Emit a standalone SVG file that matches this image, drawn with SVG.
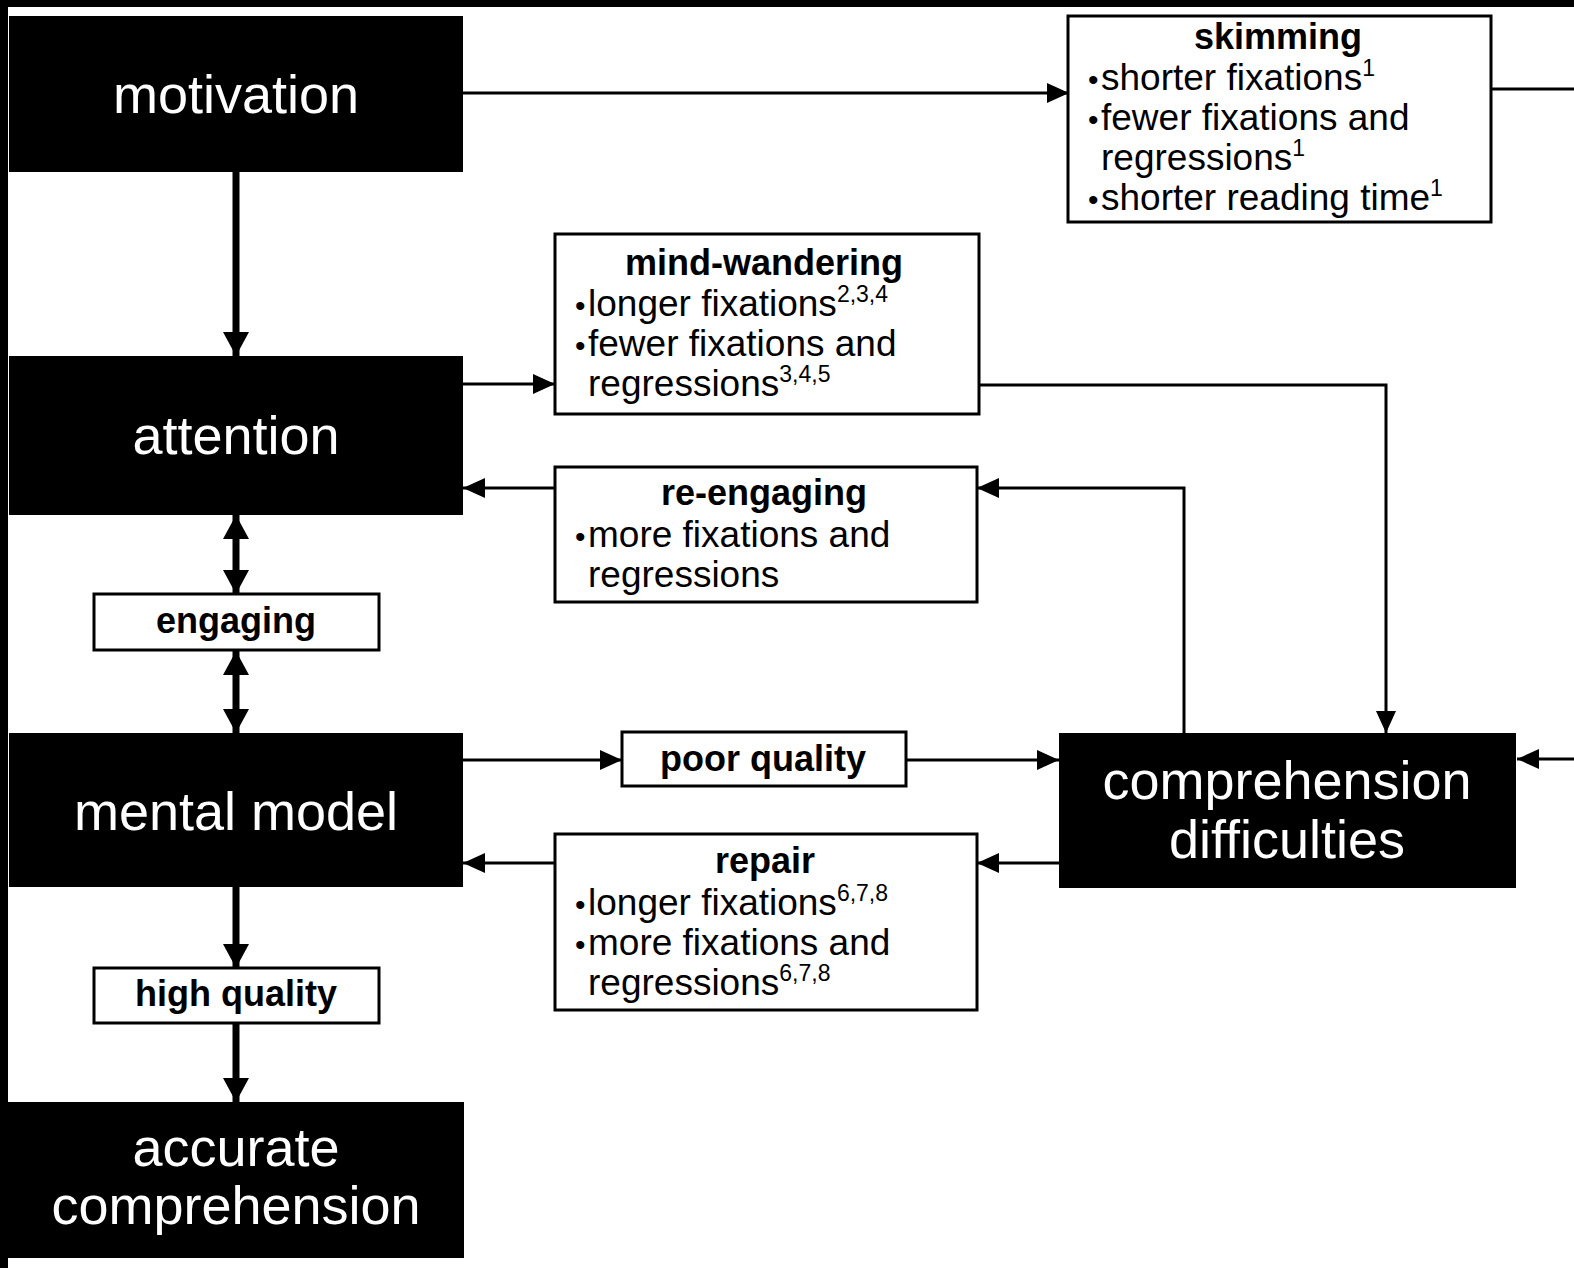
<svg xmlns="http://www.w3.org/2000/svg" width="1574" height="1268" viewBox="0 0 1574 1268">
<style>
.blk{fill:#000}
.box{fill:#fff;stroke:#000;stroke-width:3}
.big{font-family:"Liberation Sans",Arial,sans-serif;font-size:54px;fill:#fff;text-anchor:middle}
.ttl{font-family:"Liberation Sans",Arial,sans-serif;font-size:36px;font-weight:bold;fill:#000;text-anchor:middle}
.txt{font-family:"Liberation Sans",Arial,sans-serif;font-size:37px;fill:#000}
.sup{font-size:23px}
.bul{font-size:30px}
.thin{fill:none;stroke:#000;stroke-width:3}
.thick{fill:none;stroke:#000;stroke-width:7}
</style>
<defs>
<marker id="ah" markerUnits="userSpaceOnUse" markerWidth="24" markerHeight="22" refX="22" refY="10" orient="auto">
<path d="M0,0 L22,10 L0,20 z" fill="#000"/>
</marker>
<marker id="ahT" markerUnits="userSpaceOnUse" markerWidth="26" markerHeight="28" refX="24" refY="13" orient="auto-start-reverse">
<path d="M0,0 L24,13 L0,26 z" fill="#000"/>
</marker>
</defs>
<rect x="0" y="0" width="1574" height="1268" fill="#fff"/>
<rect x="0" y="0" width="1574" height="7" fill="#000"/>
<rect x="0" y="0" width="8" height="1268" fill="#000"/>

<g id="connectors">
<line class="thin" x1="463" y1="93" x2="1069" y2="93" marker-end="url(#ah)"/>
<line class="thin" x1="1492" y1="89" x2="1574" y2="89"/>
<line class="thin" x1="1574" y1="759" x2="1517" y2="759" marker-end="url(#ah)"/>
<line class="thick" x1="236" y1="172" x2="236" y2="356" marker-end="url(#ahT)"/>
<line class="thin" x1="463" y1="384" x2="555" y2="384" marker-end="url(#ah)"/>
<polyline class="thin" points="979,385 1386,385 1386,733" marker-end="url(#ah)"/>
<polyline class="thin" points="1184,733 1184,488 977,488" marker-end="url(#ah)"/>
<line class="thin" x1="555" y1="488" x2="463" y2="488" marker-end="url(#ah)"/>
<line class="thick" x1="236" y1="515" x2="236" y2="594" marker-start="url(#ahT)" marker-end="url(#ahT)"/>
<line class="thick" x1="236" y1="651" x2="236" y2="733" marker-start="url(#ahT)" marker-end="url(#ahT)"/>
<line class="thin" x1="463" y1="760" x2="622" y2="760" marker-end="url(#ah)"/>
<line class="thin" x1="906" y1="760" x2="1059" y2="760" marker-end="url(#ah)"/>
<line class="thin" x1="1059" y1="863" x2="977" y2="863" marker-end="url(#ah)"/>
<line class="thin" x1="555" y1="863" x2="463" y2="863" marker-end="url(#ah)"/>
<line class="thick" x1="236" y1="887" x2="236" y2="968" marker-end="url(#ahT)"/>
<line class="thick" x1="236" y1="1023" x2="236" y2="1102" marker-end="url(#ahT)"/>
</g>

<g id="motivation">
<rect class="blk" x="9" y="16" width="454" height="156"/>
<text class="big" x="236" y="113">motivation</text>
</g>

<g id="attention">
<rect class="blk" x="9" y="356" width="454" height="159"/>
<text class="big" x="236" y="454">attention</text>
</g>

<g id="engaging">
<rect class="box" x="94" y="594" width="285" height="56"/>
<text class="ttl" x="236" y="633">engaging</text>
</g>

<g id="mental-model">
<rect class="blk" x="9" y="733" width="454" height="154"/>
<text class="big" x="236" y="830">mental model</text>
</g>

<g id="high-quality">
<rect class="box" x="94" y="968" width="285" height="55"/>
<text class="ttl" x="236" y="1006">high quality</text>
</g>

<g id="accurate-comprehension">
<rect class="blk" x="7" y="1102" width="457" height="156"/>
<text class="big" x="236" y="1166">accurate</text>
<text class="big" x="236" y="1224">comprehension</text>
</g>

<g id="skimming">
<rect class="box" x="1068" y="16" width="423" height="206"/>
<text class="ttl" x="1278" y="49">skimming</text>
<text class="txt" x="1088" y="90"><tspan class="bul">•</tspan><tspan x="1101">shorter fixations</tspan><tspan class="sup" dy="-14">1</tspan></text>
<text class="txt" x="1088" y="130"><tspan class="bul">•</tspan><tspan x="1101">fewer fixations and</tspan></text>
<text class="txt" x="1101" y="170">regressions<tspan class="sup" dy="-14">1</tspan></text>
<text class="txt" x="1088" y="210"><tspan class="bul">•</tspan><tspan x="1101">shorter reading time</tspan><tspan class="sup" dy="-14">1</tspan></text>
</g>

<g id="mind-wandering">
<rect class="box" x="555" y="234" width="424" height="180"/>
<text class="ttl" x="764" y="275">mind-wandering</text>
<text class="txt" x="575" y="316"><tspan class="bul">•</tspan><tspan x="588">longer fixations</tspan><tspan class="sup" dy="-14">2,3,4</tspan></text>
<text class="txt" x="575" y="356"><tspan class="bul">•</tspan><tspan x="588">fewer fixations and</tspan></text>
<text class="txt" x="588" y="396">regressions<tspan class="sup" dy="-14">3,4,5</tspan></text>
</g>

<g id="re-engaging">
<rect class="box" x="555" y="467" width="422" height="135"/>
<text class="ttl" x="764" y="505">re-engaging</text>
<text class="txt" x="575" y="547"><tspan class="bul">•</tspan><tspan x="588">more fixations and</tspan></text>
<text class="txt" x="588" y="587">regressions</text>
</g>

<g id="poor-quality">
<rect class="box" x="622" y="732" width="284" height="54"/>
<text class="ttl" x="763" y="771">poor quality</text>
</g>

<g id="comprehension-difficulties">
<rect class="blk" x="1059" y="733" width="457" height="155"/>
<text class="big" x="1287" y="799">comprehension</text>
<text class="big" x="1287" y="858">difficulties</text>
</g>

<g id="repair">
<rect class="box" x="555" y="834" width="422" height="176"/>
<text class="ttl" x="765" y="873">repair</text>
<text class="txt" x="575" y="915"><tspan class="bul">•</tspan><tspan x="588">longer fixations</tspan><tspan class="sup" dy="-14">6,7,8</tspan></text>
<text class="txt" x="575" y="955"><tspan class="bul">•</tspan><tspan x="588">more fixations and</tspan></text>
<text class="txt" x="588" y="995">regressions<tspan class="sup" dy="-14">6,7,8</tspan></text>
</g>
</svg>
